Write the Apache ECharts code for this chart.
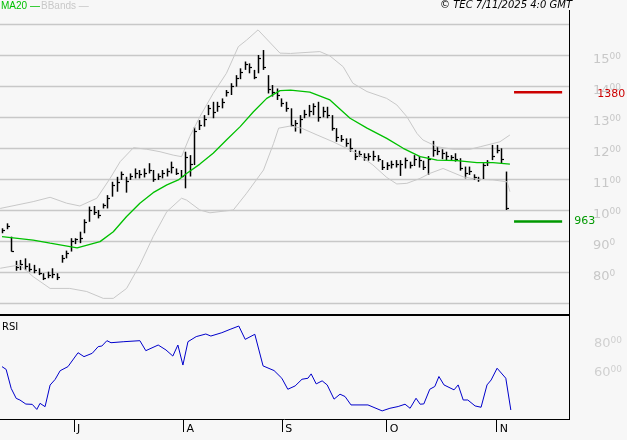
<!DOCTYPE html>
<html><head><meta charset="utf-8">
<script src="https://cdn.jsdelivr.net/npm/echarts@6/dist/echarts.min.js"></script>
<style>html,body{margin:0;padding:0;background:#f7f7f7}#c{width:627px;height:440px}</style>
</head><body><div id="c"></div>
<script>
// Bars: [high, low, close], one per trading day
const highs = [941,957,914,836,839,844,828,823,812,796,801,812,796,855,869,909,909,930,970,1011,1013,1000,1021,1048,1091,1107,1124,1107,1118,1134,1129,1134,1151,1129,1118,1129,1134,1156,1134,1129,1188,1177,1267,1290,1306,1339,1349,1349,1360,1387,1409,1435,1457,1479,1473,1452,1500,1516,1435,1403,1392,1360,1349,1328,1290,1306,1323,1339,1344,1349,1333,1333,1306,1264,1242,1231,1231,1194,1191,1183,1183,1191,1177,1161,1154,1159,1161,1161,1169,1156,1177,1174,1159,1174,1223,1204,1196,1188,1177,1183,1167,1140,1140,1115,1107,1151,1161,1210,1210,1199,1124];
const lows  = [925,938,866,804,806,806,801,796,790,774,780,780,774,830,844,866,890,893,925,962,984,973,1005,1005,1043,1059,1097,1056,1097,1102,1102,1105,1118,1091,1097,1102,1108,1118,1113,1105,1070,1108,1145,1258,1269,1306,1296,1317,1328,1366,1371,1398,1422,1452,1441,1422,1441,1452,1376,1366,1355,1333,1317,1269,1253,1247,1296,1301,1306,1285,1299,1296,1256,1220,1220,1204,1188,1161,1172,1159,1159,1159,1156,1129,1129,1134,1137,1110,1134,1134,1142,1137,1129,1113,1172,1177,1164,1161,1161,1156,1127,1102,1113,1097,1091,1099,1142,1161,1183,1151,1000];
const closes= [935,950,868,815,825,820,810,805,798,780,790,795,785,845,860,900,905,910,960,1000,995,985,1015,1040,1080,1090,1115,1095,1110,1120,1115,1120,1130,1100,1110,1120,1125,1140,1120,1110,1170,1150,1255,1275,1295,1330,1315,1335,1350,1380,1400,1425,1445,1470,1460,1430,1490,1460,1390,1380,1370,1345,1330,1275,1280,1295,1310,1320,1335,1300,1320,1305,1265,1235,1230,1215,1200,1175,1180,1170,1175,1175,1165,1140,1145,1150,1150,1150,1160,1145,1165,1160,1140,1165,1195,1190,1185,1175,1170,1165,1135,1120,1125,1105,1100,1145,1155,1175,1195,1165,1005];
// Indicator readings: [bar position, value]
const ma20 = [[0,914],[6.8,903],[10.5,893],[16.4,878],[21.4,898],[24.3,930],[27.2,979],[30.1,1022],[33,1056],[36,1081],[38.5,1097],[40.3,1118],[43.2,1148],[46.1,1183],[49,1226],[52,1269],[54.9,1317],[57.8,1360],[60.7,1385],[63,1387],[67.2,1380],[71.6,1355],[76,1296],[79.7,1264],[84,1231],[87.6,1199],[91.3,1172],[95,1161],[99.3,1159],[103.7,1153],[107.2,1153],[110.9,1148]];
const bbUpper = [[-0.4,1005],[6.8,1027],[10.5,1041],[14.1,1022],[17,1013],[20.7,1038],[23.6,1102],[25.8,1156],[28.7,1201],[31.6,1196],[34.5,1188],[37.4,1177],[39.2,1172],[41,1237],[43.2,1301],[46.1,1376],[49,1441],[51.6,1527],[53.4,1548],[55.9,1581],[60.7,1506],[63,1505],[69.4,1511],[71.6,1497],[74.5,1462],[76.6,1409],[79.7,1382],[84,1360],[86.2,1339],[88.4,1301],[90.6,1247],[91.9,1226],[95,1204],[98.5,1196],[102.2,1196],[104.4,1204],[108.7,1220],[110.9,1242]];
const bbLower = [[-0.4,812],[3.9,823],[6.8,785],[10.5,747],[14.8,747],[18.5,737],[22.1,715],[24.3,715],[27.2,747],[30.1,823],[33,914],[36,995],[39.2,1038],[40.3,1032],[43.2,1000],[45.4,991],[50.5,1000],[53.4,1054],[57.1,1129],[59.3,1215],[60.4,1264],[63,1271],[65.4,1264],[68.8,1242],[72.3,1220],[77.5,1183],[81,1145],[84,1105],[86.2,1084],[88.4,1086],[91.3,1102],[93.4,1118],[96.3,1134],[100.7,1107],[103.7,1099],[107.2,1097],[110.3,1091],[110.9,1059]];
const rsi = [[0,62.8],[0.9,60.9],[2,47.8],[3.1,40.9],[3.9,39.8],[5.2,37],[6.6,36.8],[7.6,33.3],[8.3,37.5],[9.4,35.2],[10.5,50.1],[11.6,54],[12.7,60],[14.4,62.8],[16.6,72.4],[17.9,69.7],[19.7,72],[21,76.6],[21.8,77],[22.9,80.7],[23.8,79.3],[26.6,80],[30.1,80.7],[31.4,73.8],[34.1,77.7],[35.8,74.3],[37.3,70.1],[38.4,77.7],[39.5,63.9],[40.6,80],[42.4,83.5],[44.5,85.3],[45.6,83.9],[48,86.2],[49.8,88.5],[51.7,90.8],[53.1,81.6],[55.2,85.1],[57,63.3],[59.4,60.1],[61.1,54.8],[62.4,47.2],[64,49.5],[65.5,54.1],[66.8,54.8],[67.5,57.8],[68.6,50.9],[69.9,53],[71,50.2],[72.5,40.4],[73.8,43.8],[74.9,42.2],[76.2,36.4],[79.9,36.4],[83,32.3],[84.7,34.1],[86.5,35.3],[88,36.9],[89.1,34.1],[90.4,41],[91.3,36.9],[92.1,37.1],[93.4,47.2],[94.5,49.1],[95.4,56],[96.5,50.2],[98.7,46.8],[99.6,50.2],[100.7,39.8],[101.7,39.8],[103.3,35.7],[104.6,34.8],[105.9,50.2],[106.8,53.6],[108.1,61.7],[110,54.8],[111.1,32.9]];
const monthTicks = [15.7,39.6,61.2,84,108];
const monthLabels = ['J','A','S','O','N'];
const priceTicks = [800,900,1000,1100,1200,1300,1400,1500];
const rsiTicks = [60,80];
const resistance = 1380, support = 963;
const levelSpan = [111.8,122.3];

const ohlc = highs.map((h,i)=>[i,h,lows[i],closes[i]]);
const sup = t => { const s=String(t); return s.slice(0,2)+'{s|'+s.slice(2)+'}'; };
const xCommon = {type:'value',min:-0.44,max:123.8,axisLine:{show:false},splitLine:{show:false}};
const chart = echarts.init(document.getElementById('c'),null,{renderer:'canvas'});
chart.setOption({
  backgroundColor:'#f7f7f7', animation:false,
  textStyle:{fontFamily:'DejaVu Sans'},
  grid:[{left:0,right:58,top:24,height:279},{left:0,right:58,top:315,height:104}],
  xAxis:[
    Object.assign({gridIndex:0,axisTick:{show:false},axisLabel:{show:false}},xCommon),
    Object.assign({gridIndex:1,
      axisTick:{show:true,customValues:monthTicks,length:13,lineStyle:{color:'#000'}},
      axisLabel:{show:true,customValues:monthTicks,color:'#000',fontSize:11,margin:5,align:'left',padding:[0,0,0,3],
        formatter:v=>{const k=monthTicks.findIndex(m=>Math.abs(m-v)<0.01);return k>=0?monthLabels[k]:'';}}},xCommon)
  ],
  yAxis:[
    {gridIndex:0,type:'value',position:'right',min:700,max:1600,interval:100,
     axisLine:{show:false},axisTick:{show:false},
     splitLine:{show:true,lineStyle:{color:'#c8c8c8',width:1.3}},
     axisLabel:{customValues:priceTicks,margin:24,color:'#c8c8c8',fontSize:13,formatter:v=>sup(v),padding:[10,0,0,0],
       rich:{s:{fontSize:9,color:'#c8c8c8',verticalAlign:'top',padding:[0,0,6,0]}}}},
    {gridIndex:1,type:'value',position:'right',min:26.7,max:98.4,
     axisLine:{show:false},axisTick:{show:false},splitLine:{show:false},
     axisLabel:{customValues:rsiTicks,margin:25,color:'#d0d0d0',fontSize:13,formatter:v=>v+'{s|00}',padding:[4,0,0,0],
       rich:{s:{fontSize:9,color:'#d0d0d0',verticalAlign:'top',padding:[0,0,6,0]}}}}
  ],
  series:[
    {type:'line',data:bbUpper,symbol:'none',lineStyle:{color:'#c8c8c8',width:1},silent:true},
    {type:'line',data:bbLower,symbol:'none',lineStyle:{color:'#c8c8c8',width:1},silent:true},
    {type:'line',data:ma20,symbol:'none',lineStyle:{color:'#00c000',width:1.3},silent:true},
    {type:'custom',data:ohlc,encode:{x:0,y:[1,2,3]},
     renderItem:(params,api)=>{
       const x=api.value(0);
       const ph=api.coord([x,api.value(1)]), pl=api.coord([x,api.value(2)]), pc=api.coord([x,api.value(3)]);
       const cx=Math.round(ph[0])+0.5;
       return {type:'group',children:[
         {type:'line',shape:{x1:cx,y1:ph[1],x2:cx,y2:pl[1]},style:{stroke:'#000',lineWidth:1.5}},
         {type:'line',shape:{x1:cx,y1:Math.round(pc[1])+0.5,x2:cx+2.5,y2:Math.round(pc[1])+0.5},style:{stroke:'#000',lineWidth:1.2}}
       ]};
     }},
    {type:'line',data:[[levelSpan[0],resistance],[levelSpan[1],resistance]],symbol:'none',lineStyle:{color:'#cc0000',width:2.5},
     endLabel:{show:true,formatter:'1380',color:'#cc0000',fontSize:11,offset:[27,2]}},
    {type:'line',data:[[levelSpan[0],support],[levelSpan[1],support]],symbol:'none',lineStyle:{color:'#009900',width:2.5},
     endLabel:{show:true,formatter:String(support),color:'#009900',fontSize:11,offset:[4,0]}},
    {type:'line',xAxisIndex:1,yAxisIndex:1,data:rsi,symbol:'none',lineStyle:{color:'#0000cc',width:1}}
  ],
  graphic:[
    {type:'line',shape:{x1:569.5,y1:10,x2:569.5,y2:420},style:{stroke:'#000',lineWidth:1}},
    {type:'line',shape:{x1:0,y1:315,x2:569,y2:315},style:{stroke:'#000',lineWidth:2}},
    {type:'line',shape:{x1:0,y1:419.5,x2:569,y2:419.5},style:{stroke:'#000',lineWidth:1}},
    {type:'text',left:1,top:1,style:{text:'MA20 —',fill:'#00c000',font:'10px Liberation Sans'}},
    {type:'text',left:41,top:1,style:{text:'BBands —',fill:'#c8c8c8',font:'10px Liberation Sans'}},
    {type:'text',right:55,top:0,style:{text:'© TEC 7/11/2025 4:0 GMT',fill:'#000',font:'italic 10px DejaVu Sans'}},
    {type:'text',left:2,top:322,style:{text:'RSI',fill:'#000',font:'10px DejaVu Sans'}}
  ]
});
</script></body></html>
